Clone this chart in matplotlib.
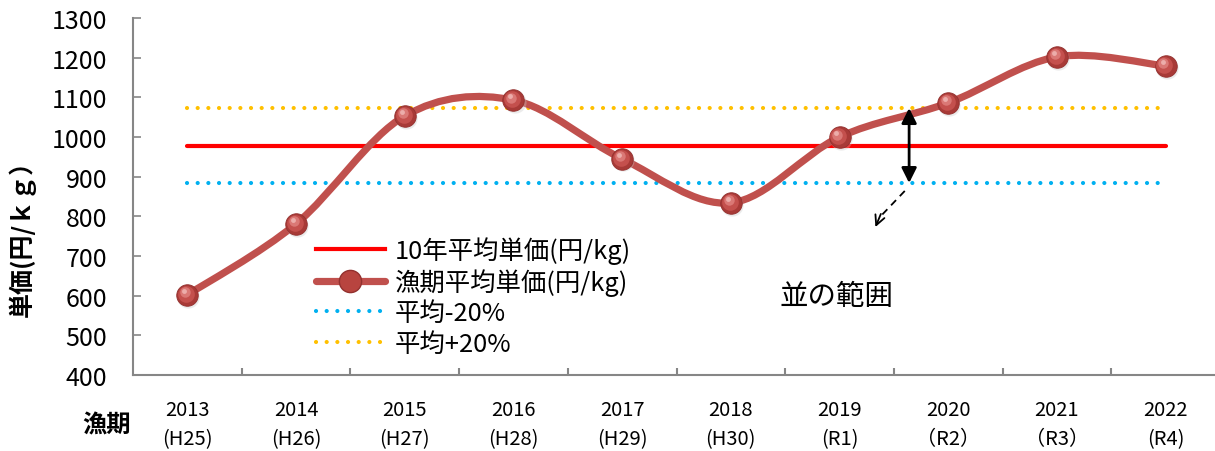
import matplotlib
matplotlib.use("Agg")
import matplotlib.pyplot as plt
import numpy as np
from matplotlib.path import Path
from matplotlib.patches import PathPatch
from matplotlib.lines import Line2D
from matplotlib.transforms import ScaledTranslation

plt.rcParams['font.family'] = ['Noto Sans CJK JP', 'DejaVu Sans']

# ---- data ----
years = ["2013", "2014", "2015", "2016", "2017", "2018", "2019", "2020", "2021", "2022"]
eras = ["(H25)", "(H26)", "(H27)", "(H28)", "(H29)", "(H30)", "(R1)", "（R2）", "（R3）", "(R4)"]
unit_price = [602, 781, 1053, 1093, 945, 834, 1000, 1086, 1202, 1179]
avg_10yr = 977.5
avg_minus = 884
avg_plus = 1073
yticks = [400, 500, 600, 700, 800, 900, 1000, 1100, 1200, 1300]

W, H = 1215, 452
fig = plt.figure(figsize=(W / 100, H / 100), dpi=100)
x0, x1 = 133, 133 + 10 * 108.7
ytop, ybot = 19, 376
ax = fig.add_axes([x0 / W, (H - ybot) / H, (x1 - x0) / W, (ybot - ytop) / H])

n = len(years)
xs = np.arange(n)
ys = np.array(unit_price, dtype=float)

ax.set_xlim(-0.5, n - 0.5)
ax.set_ylim(400, 1300)

# reference lines
ax.plot([xs[0], xs[-1]], [avg_10yr] * 2, color='#FF0000', lw=3, solid_capstyle='round', zorder=2)
ax.plot([xs[0], xs[-1]], [avg_minus] * 2, color='#00B0F0', lw=3.0,
        linestyle=(0, (0.01, 2.55)), dash_capstyle='round', zorder=2)
ax.plot([xs[0], xs[-1]], [avg_plus] * 2, color='#FFC000', lw=3.0,
        linestyle=(0, (0.01, 2.55)), dash_capstyle='round', zorder=2)

# smoothed curve (Catmull-Rom style bezier as in spreadsheet smoothing)
verts = [(xs[0], ys[0])]
codes = [Path.MOVETO]
for i in range(n - 1):
    p0 = np.array([xs[max(i - 1, 0)], ys[max(i - 1, 0)]])
    p1 = np.array([xs[i], ys[i]])
    p2 = np.array([xs[i + 1], ys[i + 1]])
    p3 = np.array([xs[min(i + 2, n - 1)], ys[min(i + 2, n - 1)]])
    c1 = p1 + (p2 - p0) / 6.0
    c2 = p2 - (p3 - p1) / 6.0
    verts += [tuple(c1), tuple(c2), tuple(p2)]
    codes += [Path.CURVE4] * 3
curve = PathPatch(Path(verts, codes), facecolor='none', edgecolor='#C0504D',
                  lw=5.2, capstyle='round', joinstyle='round', zorder=3)
ax.add_patch(curve)

# sphere-like markers
def shifted(dx, dy):
    return ax.transData + ScaledTranslation(dx / 72, dy / 72, fig.dpi_scale_trans)

ax.plot(xs, ys, linestyle='none', marker='o', markersize=16, transform=shifted(0.8, -1.2),
        markerfacecolor='#C8C8C8', markeredgecolor='none', alpha=0.35, zorder=4)
ax.plot(xs, ys, linestyle='none', marker='o', markersize=15.5,
        markerfacecolor='#A83A37', markeredgecolor='#93302E', markeredgewidth=0.6, zorder=4)
ax.plot(xs, ys, linestyle='none', marker='o', markersize=12, transform=shifted(-0.9, 0.9),
        markerfacecolor='#C4504D', markeredgecolor='none', zorder=5)
ax.plot(xs, ys, linestyle='none', marker='o', markersize=7.5, transform=shifted(-1.6, 1.8),
        markerfacecolor='#DA7875', markeredgecolor='none', zorder=6)
ax.plot(xs, ys, linestyle='none', marker='o', markersize=3.5, transform=shifted(-2.2, 2.6),
        markerfacecolor='#EFB3B1', markeredgecolor='none', alpha=0.9, zorder=7)

# axes styling
for s in ['top', 'right']:
    ax.spines[s].set_visible(False)
for s in ['left', 'bottom']:
    ax.spines[s].set_color('#868686')
    ax.spines[s].set_linewidth(1.5)

ax.set_yticks(yticks)
ax.set_yticklabels([str(v) for v in yticks])
ax.tick_params(axis='y', direction='in', length=6, width=1.2, color='#868686',
               labelsize=18, pad=18.5, labelcolor='#000000')

ax.set_xticks(np.arange(n) + 0.5)
ax.set_xticklabels([])
ax.tick_params(axis='x', which='major', direction='in', length=5, width=1.5, color='#868686')
ax.set_xticks(xs, minor=True)
ax.set_xticklabels([f"{y}\n{e}" for y, e in zip(years, eras)], minor=True)
ax.tick_params(axis='x', which='minor', length=0, labelsize=14.5, pad=17)
for t in ax.get_xticklabels(minor=True):
    t.set_linespacing(1.55)

fig.text(22.5 / W, 1 - 232 / H, "単価(円/ｋｇ）", fontsize=18, fontweight='bold',
         rotation=90, ha='center', va='center')
fig.text(107 / W, 1 - 425 / H, "漁期", fontsize=17.5, fontweight='bold', ha='center', va='center')

# range arrows
xa = 6.64
ax.annotate("", xy=(xa, avg_plus), xytext=(xa, avg_minus),
            arrowprops=dict(arrowstyle='<|-|>,head_length=0.9,head_width=0.45', color='black', lw=2,
                            shrinkA=0, shrinkB=0), zorder=8)
ax.plot([6.60, 6.36], [864, 795], color='black', lw=1.3, linestyle=(0, (4, 3)), zorder=8)
ax.annotate("", xy=(6.33, 773), xytext=(6.38, 806),
            arrowprops=dict(arrowstyle='->,head_length=0.7,head_width=0.35', color='black', lw=1.3,
                            shrinkA=0, shrinkB=0), zorder=8)
ax.text(5.97, 599, "並の範囲", fontsize=20.5, ha='center', va='center')

# legend
handles = [
    Line2D([], [], color='#FF0000', lw=3),
    Line2D([], [], color='#C0504D', lw=5.2, marker='o', markersize=16,
           markerfacecolor='#B8443F', markeredgecolor='#93302E', solid_capstyle='round'),
    Line2D([], [], color='#00B0F0', lw=3, linestyle=(0, (0.01, 2.55)), dash_capstyle='round'),
    Line2D([], [], color='#FFC000', lw=3, linestyle=(0, (0.01, 2.55)), dash_capstyle='round'),
]
labels = ["10年平均単価(円/kg)", "漁期平均単価(円/kg)", "平均-20%", "平均+20%"]
leg = fig.legend(handles, labels, loc='upper left', bbox_to_anchor=(316 / W, 1 - 237 / H),
                 frameon=False, fontsize=18.3, handlelength=2.7, handletextpad=0.4,
                 labelspacing=0.17, borderpad=0, borderaxespad=0, markerscale=1.0)

fig.savefig("out.png", dpi=100)
